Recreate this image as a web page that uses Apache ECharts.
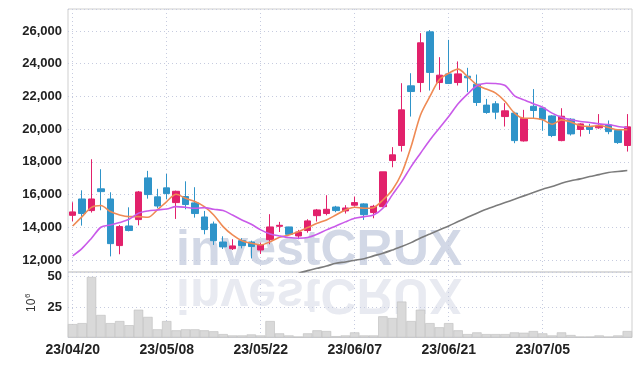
<!DOCTYPE html>
<html>
<head>
<meta charset="utf-8">
<script src="https://cdn.jsdelivr.net/npm/echarts@6/dist/echarts.min.js"></script>
<style>
html,body{margin:0;padding:0;background:#fff;}
#c{width:642px;height:366px;}
</style>
</head>
<body>
<div id="c"></div>
<script>
var dates = ['23/04/20','23/04/21','23/04/24','23/04/25','23/04/26','23/04/27','23/04/28','23/05/02','23/05/03','23/05/04',
'23/05/08','23/05/09','23/05/10','23/05/11','23/05/12','23/05/15','23/05/16','23/05/17','23/05/18','23/05/19',
'23/05/22','23/05/23','23/05/24','23/05/25','23/05/26','23/05/30','23/05/31','23/06/01','23/06/02','23/06/05',
'23/06/07','23/06/08','23/06/09','23/06/12','23/06/13','23/06/14','23/06/15','23/06/16','23/06/19','23/06/20',
'23/06/21','23/06/22','23/06/23','23/06/26','23/06/27','23/06/28','23/06/29','23/06/30','23/07/03','23/07/04',
'23/07/05','23/07/06','23/07/07','23/07/10','23/07/11','23/07/12','23/07/13','23/07/14','23/07/17','23/07/18'];

var opens  = [14730,15730,15020,16350,15730,12880,14080,14470,17020,15860,16410,15510,15880,15490,14630,14200,13100,12690,13180,13100,12610,13240,14060,14020,13470,13800,14710,14840,15240,15000,15350,15430,14900,15260,18080,19000,22650,22850,25950,22850,23380,22850,23240,22750,21470,21550,20770,20980,19280,21400,21300,20810,19300,20610,19980,20160,20080,20260,19920,19000];
var closes = [14940,14840,15730,16180,13000,14040,13800,16160,16000,15300,16060,16200,15390,14840,13860,13180,12800,12860,12880,12820,12920,14020,14120,13570,13710,14390,15060,15100,15020,15180,15510,14770,15280,17390,18430,21180,22300,25280,23470,23300,22790,23380,23140,21630,21020,21040,21120,19300,20650,21140,20610,19610,20790,19710,20320,19980,20200,19850,19180,20140];
var lows   = [14370,14100,14900,15040,12220,12350,13750,14120,15750,15160,15710,14510,15100,14590,13570,12920,12670,12610,12710,12100,12370,12960,13710,13530,13270,13670,14350,14730,14920,14840,15260,14450,14550,15220,17670,18630,20770,22260,22360,22400,22770,22670,22260,21420,20940,20610,20160,19140,19240,20670,19900,19510,19260,19610,19550,19710,20020,19690,19100,18630];
var highs  = [15530,16260,18160,17550,16140,14140,15220,16220,17450,16350,17260,16240,16810,16450,15000,14350,13450,13270,13330,13180,13060,14800,14330,14030,13840,14490,15120,15960,15310,15350,15880,15470,15370,17390,18900,22810,23420,25870,26060,24400,25460,24140,23750,23340,21850,21710,21590,21060,21180,22450,21340,20850,21280,20670,20360,20320,20920,20530,19960,20920];

var maShort = [14080,14650,15220,15330,14960,14750,14650,14650,14610,15060,15570,16020,15770,15570,15260,14750,14040,13530,13180,13020,12920,13120,13390,13530,13730,13980,14240,14450,14750,15060,15220,15160,15200,15670,16280,17300,18940,20870,22000,23020,23420,23670,23220,22710,22450,22200,21690,20980,20670,20670,20570,20300,20570,20430,20220,20160,20220,20100,19960,19960];
var maMid   = [12250,12710,13330,14000,14140,14290,14490,14860,15000,15060,15120,15260,15220,15160,15200,15100,15020,14750,14450,14180,13840,13590,13470,13370,13330,13370,13570,13840,14080,14330,14550,14650,14750,15160,15980,16790,17710,18530,19340,20060,20770,21550,22140,22650,22810,22790,22670,22040,21790,21550,21340,20980,20730,20570,20470,20410,20320,20280,20160,20100];
var maLong  = [null,null,null,null,null,null,null,null,null,null,null,null,null,null,null,null,null,null,null,null,null,null,null,null,11180,11350,11490,11630,11800,11880,11980,12080,12250,12410,12610,12820,13060,13350,13590,13840,14080,14350,14610,14860,15100,15310,15510,15710,15920,16120,16330,16490,16690,16840,16960,17100,17220,17350,17410,17470];

var volumes = [11.0,11.8,49.7,18.5,11.8,13.5,10.1,22.8,16.9,6.7,13.5,5.9,6.7,6.7,5.9,5.1,2.8,1.7,1.7,2.5,1.7,13.5,3.4,1.7,0.8,3.4,5.9,5.3,1.1,1.7,4.2,1.7,1.7,17.4,16.0,29.5,13.5,22.8,11.8,8.4,11.8,5.9,2.8,4.2,2.8,2.8,2.8,4.2,3.9,5.3,3.4,1.7,4.2,2.0,0.8,0.8,1.7,0.8,1.7,5.3];

var candles = opens.map(function(o, i){ return [o, closes[i], lows[i], highs[i]]; });

var chart = echarts.init(document.getElementById('c'), null, {renderer:'canvas'});
var labelFont = {color:'#222', fontWeight:'bold', fontSize:13, fontFamily:'Liberation Sans, Arial, sans-serif'};
var dotted = {show:true, lineStyle:{color:'#c6cbdf', type:[1,3], width:1}};
var every10 = function(i){ return i % 10 === 0; };
var wmFont = 'bold 50px "Liberation Sans", Arial, sans-serif';

chart.setOption({
  animation:false,
  backgroundColor:'#fff',
  grid:[
    {left:68, right:10, top:9, height:263, show:true, borderColor:'#cfcfcf', borderWidth:1},
    {left:68, right:10, top:272, height:65.5, show:true, borderColor:'#cfcfcf', borderWidth:1}
  ],
  graphic:[
    {type:'text', x:176, y:226, z:-10, silent:true,
     style:{text:'investCRUX', font:wmFont, fill:'#d2d8e6', verticalAlign:'top'}},
    {type:'text', x:176, y:318, scaleY:-1, z:-10, silent:true,
     style:{text:'investCRUX', font:wmFont, fill:'#e8eaf1', verticalAlign:'top'}},
    {type:'group', x:38, y:312, rotation:Math.PI/2, silent:true, children:[
      {type:'text', x:0, y:0, style:{text:'10', font:'12px "Liberation Sans", Arial, sans-serif', fill:'#333', verticalAlign:'bottom'}},
      {type:'text', x:14, y:-6, style:{text:'6', font:'8px "Liberation Sans", Arial, sans-serif', fill:'#333', verticalAlign:'bottom'}}
    ]}
  ],
  xAxis:[
    {type:'category', gridIndex:0, data:dates, boundaryGap:true,
     axisLine:{show:false}, axisTick:{show:false}, axisLabel:{show:false},
     splitLine:Object.assign({interval:every10, alignWithLabel:true}, dotted)},
    {type:'category', gridIndex:1, data:dates, boundaryGap:true,
     axisLine:{show:false}, axisTick:{show:false, alignWithLabel:true},
     axisLabel:Object.assign({interval:every10, margin:6}, labelFont, {fontSize:14}),
     splitLine:Object.assign({interval:every10, alignWithLabel:true}, dotted)}
  ],
  yAxis:[
    {type:'value', gridIndex:0, min:11265, max:27347, splitNumber:8, scale:true,
     axisLine:{show:false}, axisTick:{show:false},
     axisLabel:Object.assign({margin:6, showMinLabel:false, showMaxLabel:false}, labelFont),
     splitLine:dotted},
    {type:'value', gridIndex:1, min:0, max:53.8, interval:25,
     axisLine:{show:false}, axisTick:{show:false},
     axisLabel:Object.assign({margin:6, showMinLabel:false, showMaxLabel:false}, labelFont),
     splitLine:dotted}
  ],
  series:[
    {type:'bar', xAxisIndex:1, yAxisIndex:1, data:volumes, barCategoryGap:'0%', barWidth:'100%',
     itemStyle:{color:'#d9d9d9', borderColor:'#bdbdbd', borderWidth:0.6}},
    {type:'candlestick', xAxisIndex:0, yAxisIndex:0, data:candles, barWidth:7,
     itemStyle:{color:'#e2216b', color0:'#2f94c9', borderColor:'#e2216b', borderColor0:'#2f94c9', borderWidth:1}},
    {type:'line', xAxisIndex:0, yAxisIndex:0, data:maShort, symbol:'none', smooth:0.3,
     lineStyle:{color:'#ef8a54', width:1.6}},
    {type:'line', xAxisIndex:0, yAxisIndex:0, data:maMid, symbol:'none', smooth:0.3,
     lineStyle:{color:'#c95ae9', width:1.6}},
    {type:'line', xAxisIndex:0, yAxisIndex:0, data:maLong, symbol:'none', smooth:0.3, connectNulls:false,
     lineStyle:{color:'#7b7b7b', width:1.6}}
  ]
});
</script>
</body>
</html>
